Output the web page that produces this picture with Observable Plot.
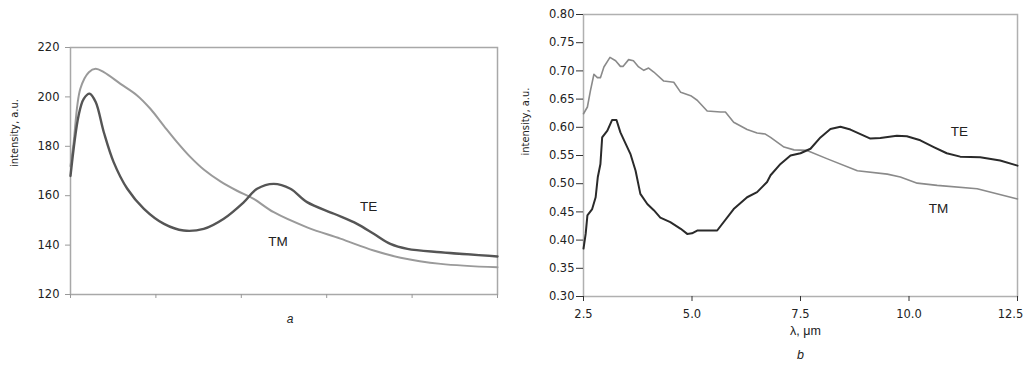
<!DOCTYPE html>
<html>
<head>
<meta charset="utf-8">
<script src="https://cdn.jsdelivr.net/npm/d3@7"></script>
<script src="https://cdn.jsdelivr.net/npm/@observablehq/plot@0.6"></script>
<style>
  body { margin: 0; background: #fff; font-family: "DejaVu Sans", sans-serif; }
  #wrap { position: relative; width: 1027px; height: 369px; overflow: hidden; }
  #a { position: absolute; left: 0; top: 0; }
  #b { position: absolute; left: 510px; top: 0; }
</style>
</head>
<body>
<div id="wrap"><div id="a"></div><div id="b"></div></div>
<script>
// Panel a (arbitrary x, 0..100)
const aTEx = [0, 1.9, 3.1, 4.5, 5.9, 7.8, 10.1, 13.3, 17.2, 21.9, 26.5, 31.2, 35.9, 40.6, 43.7, 47.6, 51.5, 55.4, 61.7, 67.1, 71, 74.9, 78.9, 86.7, 100];
const aTEy = [168, 192.5, 199.2, 201.3, 197.9, 185.7, 173.6, 162.8, 154.7, 148.6, 145.9, 146.6, 150.7, 157.4, 162.8, 164.8, 162.8, 157.4, 152.7, 148.6, 144.6, 140.5, 138.5, 137.1, 135.4];
const aTMx = [0, 0.7, 2.3, 4.3, 5.9, 7.8, 11.7, 15.6, 18.7, 21.9, 25, 28.1, 31.2, 35.1, 39, 42.9, 47.6, 55.4, 63.2, 71, 77.3, 86.7, 100];
const aTMy = [172, 181, 203.3, 210, 211.4, 210, 205.3, 200.6, 195.2, 188.2, 181.6, 175.6, 170.6, 165.8, 162.0, 158.7, 153.3, 147.2, 142.6, 137.8, 134.9, 132.4, 131];
const aYTicks = [120, 140, 160, 180, 200, 220];
const aXTicks = [0, 20, 40, 60, 80, 100];

// Panel b (wavelength, µm)
const bTMx = [2.5, 2.59, 2.66, 2.74, 2.82, 2.89, 2.97, 3.11, 3.24, 3.35, 3.41, 3.54, 3.65, 3.77, 3.89, 4.0, 4.12, 4.35, 4.58, 4.74, 4.97, 5.12, 5.35, 5.66, 5.77, 5.96, 6.27, 6.5, 6.69, 6.81, 7.12, 7.35, 7.65, 8.12, 8.81, 9.5, 9.8, 10.19, 10.65, 11.57, 12.5];
const bTMy = [0.624, 0.636, 0.665, 0.694, 0.688, 0.688, 0.707, 0.724, 0.718, 0.708, 0.708, 0.720, 0.718, 0.707, 0.701, 0.705, 0.698, 0.682, 0.680, 0.662, 0.656, 0.648, 0.629, 0.627, 0.627, 0.609, 0.596, 0.590, 0.588, 0.582, 0.565, 0.560, 0.559, 0.544, 0.523, 0.517, 0.512, 0.501, 0.497, 0.491, 0.473];
const bTEx = [2.5, 2.55, 2.59, 2.7, 2.78, 2.83, 2.89, 2.93, 3.05, 3.16, 3.26, 3.35, 3.47, 3.58, 3.7, 3.81, 3.97, 4.12, 4.27, 4.5, 4.74, 4.89, 5.0, 5.12, 5.58, 5.96, 6.27, 6.5, 6.73, 6.81, 7.04, 7.27, 7.5, 7.73, 7.96, 8.19, 8.42, 8.65, 8.88, 9.11, 9.34, 9.72, 9.95, 10.26, 10.57, 10.87, 11.18, 11.64, 12.1, 12.5];
const bTEy = [0.385, 0.411, 0.444, 0.455, 0.476, 0.512, 0.535, 0.582, 0.594, 0.613, 0.613, 0.591, 0.571, 0.553, 0.523, 0.482, 0.464, 0.453, 0.440, 0.432, 0.420, 0.411, 0.412, 0.417, 0.417, 0.455, 0.476, 0.485, 0.503, 0.515, 0.535, 0.550, 0.554, 0.562, 0.582, 0.597, 0.601, 0.596, 0.588, 0.580, 0.581, 0.585, 0.584, 0.577, 0.565, 0.554, 0.548, 0.547, 0.541, 0.532];
const bYTicks = [0.30, 0.35, 0.40, 0.45, 0.50, 0.55, 0.60, 0.65, 0.70, 0.75, 0.80];
const bXTicks = [2.5, 5.0, 7.5, 10.0, 12.5];

// Curve labels
const aLabels = [{x: 69.8, y: 155.5, t: "TE"}, {x: 48.6, y: 141.5, t: "TM"}];
const bLabels = [{x: 11.16, y: 0.592, t: "TE"}, {x: 10.68, y: 0.456, t: "TM"}];

const zip = (xs, ys) => xs.map((x, i) => ({x, y: ys[i]}));
const tickFont = "DejaVu Sans, sans-serif";
const labFont = "Liberation Sans, Arial, sans-serif";
const ink = "#222";

const plotA = Plot.plot({
  width: 510, height: 369,
  marginLeft: 70, marginRight: 13, marginTop: 47, marginBottom: 75,
  style: {fontFamily: tickFont, fontSize: "11.5px", color: ink, background: "#fff", overflow: "visible"},
  x: {domain: [0, 100], label: null},
  y: {domain: [120, 220], label: null},
  marks: [
    Plot.frame({stroke: "#a8a8a8", strokeWidth: 1.5}),
    Plot.axisY({ticks: aYTicks, tickSize: 5, tickPadding: 6, stroke: "#999", fill: ink, fontSize: 11.5, label: null}),
    Plot.axisX({ticks: aXTicks, tickFormat: () => "", tickSize: 4, stroke: "#999", label: null}),
    Plot.line(zip(aTMx, aTMy), {x: "x", y: "y", stroke: "#9a9a9a", strokeWidth: 2, curve: "catmull-rom"}),
    Plot.line(zip(aTEx, aTEy), {x: "x", y: "y", stroke: "#555", strokeWidth: 2.4, curve: "catmull-rom"}),
    Plot.text(aLabels, {x: "x", y: "y", text: "t", fontSize: 13.5, fontFamily: labFont, fill: ink}),
    Plot.text(["intensity, a.u."], {frameAnchor: "left", rotate: -90, dx: -56, dy: -4, fontSize: 11, fontFamily: "DejaVu Sans Condensed, DejaVu Sans, sans-serif", fill: ink}),
    Plot.text(["a"], {frameAnchor: "bottom", dy: 28, dx: 6, fontSize: 12, fontStyle: "italic", fontFamily: labFont, fill: ink})
  ]
});

const plotB = Plot.plot({
  width: 517, height: 369,
  marginLeft: 73, marginRight: 10, marginTop: 14, marginBottom: 73,
  style: {fontFamily: tickFont, fontSize: "11.5px", color: ink, background: "#fff"},
  x: {domain: [2.5, 12.5], label: null},
  y: {domain: [0.3, 0.8], label: null},
  marks: [
    Plot.frame({stroke: "#b0b0b0", strokeWidth: 1.5}),
    Plot.axisY({ticks: bYTicks, tickFormat: ".2f", tickSize: 7, tickPadding: 2, stroke: "#333", fill: ink, line: true, fontSize: 11.5, label: null}),
    Plot.axisX({ticks: bXTicks, tickFormat: d => d === 12.5 ? "" : d.toFixed(1), tickSize: 5, tickPadding: 8, stroke: "#333", fill: ink, line: true, fontSize: 11.5, label: null}),
    Plot.axisX({ticks: [12.5], tickFormat: ".1f", tickSize: 0, tickPadding: 13, dx: -7, fill: ink, fontSize: 11.5, label: null}),
    Plot.line(zip(bTMx, bTMy), {x: "x", y: "y", stroke: "#8a8a8a", strokeWidth: 1.6}),
    Plot.line(zip(bTEx, bTEy), {x: "x", y: "y", stroke: "#2a2a2a", strokeWidth: 2}),
    Plot.text(bLabels, {x: "x", y: "y", text: "t", fontSize: 13.5, fontFamily: labFont, fill: ink}),
    Plot.text(["intensity, a.u."], {frameAnchor: "left", rotate: -90, dx: -58, fontSize: 11, fontFamily: "DejaVu Sans Condensed, DejaVu Sans, sans-serif", fill: ink}),
    Plot.text(["λ, μm"], {frameAnchor: "bottom", dy: 38, dx: 5, fontSize: 12.5, fontFamily: labFont, fill: ink}),
    Plot.text(["b"], {frameAnchor: "bottom", dy: 62, fontSize: 12.5, fontStyle: "italic", fontFamily: labFont, fill: ink})
  ]
});

document.getElementById("a").appendChild(plotA);
document.getElementById("b").appendChild(plotB);
</script>
</body>
</html>
